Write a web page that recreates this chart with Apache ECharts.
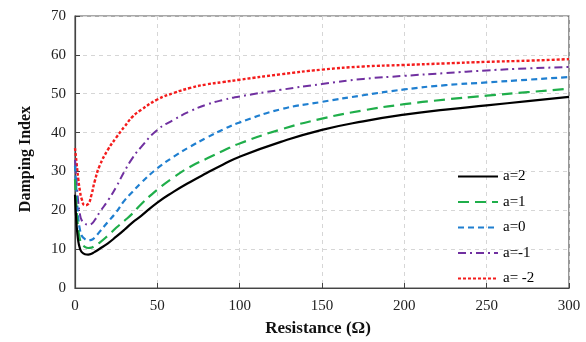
<!DOCTYPE html>
<html>
<head>
<meta charset="utf-8">
<script src="https://cdn.jsdelivr.net/npm/echarts@6/dist/echarts.min.js"></script>
<style>
  html, body { margin: 0; padding: 0; background: #fff; }
  #chart { width: 586px; height: 342px; }
</style>
</head>
<body>
<div id="chart"></div>
<script>
// Resistance values (Ω) where the damping index is sampled
const resistance = [0, 1, 2, 3, 4, 6, 8, 10, 12, 15, 20, 25, 30, 35, 40, 50, 60, 70, 80, 90, 100, 125, 150, 175, 200, 225, 250, 275, 300];

// Damping index for each value of a
const dampA2  = [24, 16, 12, 10.2, 9.3, 8.7, 8.6, 8.8, 9.3, 10.1, 11.5, 13.2, 15, 16.9, 18.5, 22, 24.8, 27.3, 29.6, 31.8, 33.8, 37.6, 40.7, 42.9, 44.6, 45.9, 47, 48.1, 49.2];
const dampA1  = [28, 20, 15, 12.5, 11.4, 10.6, 10.3, 10.4, 10.9, 11.7, 13.5, 15.5, 17.3, 19.2, 21.5, 25.3, 28.5, 31.2, 33.3, 35.3, 37.2, 40.8, 43.6, 45.7, 47.3, 48.5, 49.5, 50.4, 51.3];
const dampA0  = [31.5, 24, 18, 15, 13.5, 12.6, 12.3, 12.4, 13, 14.5, 17, 19.5, 22.5, 24.8, 27, 30.8, 33.8, 36.4, 38.7, 40.8, 42.6, 46, 47.9, 49.6, 51.1, 52.2, 52.9, 53.6, 54.3];
const dampAm1 = [33, 27, 22, 19, 17.5, 16.6, 16.3, 16.5, 17.5, 19.5, 22.5, 26, 30, 33.5, 36.2, 40.7, 43.3, 45.5, 47.2, 48.4, 49.3, 51, 52.5, 53.8, 54.6, 55.3, 56, 56.5, 56.9];
const dampAm2 = [36, 32, 28, 25, 23, 21.3, 21.6, 24, 27.5, 31.5, 35.6, 38.7, 41.5, 44.1, 45.8, 48.5, 50.2, 51.5, 52.4, 53, 53.6, 55, 56.2, 57, 57.4, 57.8, 58.2, 58.5, 58.9];

// Legend labels
const seriesNames = ['a=2', 'a=1', 'a=0', 'a=-1', 'a= -2'];

// Axis ticks
const xTicks = { min: 0, max: 300, interval: 50 };
const yTicks = { min: 0, max: 70, interval: 10 };

const serif = '"Liberation Serif", "Times New Roman", serif';

function pairs(ys) {
  return resistance.map((x, i) => [x, ys[i]]);
}

const styles = [
  { color: '#000000', width: 2.2, type: 'solid' },
  { color: '#1fae4a', width: 2.2, type: [11, 6] },
  { color: '#1f7fd0', width: 2.2, type: [6, 4] },
  { color: '#7030a0', width: 2, type: [8, 4, 2, 4] },
  { color: '#f41c1c', width: 2.4, type: [3, 2] }
];
const dataSets = [dampA2, dampA1, dampA0, dampAm1, dampAm2];

const series = dataSets.map((ys, i) => ({
  name: seriesNames[i],
  type: 'line',
  data: pairs(ys),
  symbol: 'none',
  smooth: 0.5,
  lineStyle: { color: styles[i].color, width: styles[i].width, type: styles[i].type },
  itemStyle: { color: styles[i].color },
  z: 10 - i
}));

const chart = echarts.init(document.getElementById('chart'), null, { renderer: 'canvas' });
chart.setOption({
  animation: false,
  backgroundColor: '#ffffff',
  grid: {
    left: 75, right: 17, top: 16, bottom: 51,
    show: true, borderColor: '#555', borderWidth: 1.2, backgroundColor: 'transparent'
  },
  legend: {
    orient: 'vertical',
    left: 452,
    top: 164,
    padding: 5,
    itemWidth: 40,
    itemHeight: 12,
    itemGap: 10.5,
    data: seriesNames,
    itemStyle: { opacity: 0 },
    textStyle: { fontFamily: serif, fontSize: 15, color: '#000' }
  },
  xAxis: {
    type: 'value',
    min: xTicks.min, max: xTicks.max, interval: xTicks.interval,
    name: 'Resistance (Ω)',
    nameLocation: 'middle',
    nameGap: 32,
    nameTextStyle: { fontFamily: serif, fontSize: 17, fontWeight: 'bold', color: '#111', padding: [0, 8, 0, 0] },
    axisLine: { show: true, lineStyle: { color: '#444', width: 1.2 } },
    axisTick: { show: true, inside: true, length: 5, lineStyle: { color: '#444' } },
    axisLabel: { fontFamily: serif, fontSize: 15, color: '#222', margin: 11 },
    splitLine: { show: true, lineStyle: { color: '#d6d6d6', type: [4, 4], width: 1 } }
  },
  yAxis: {
    type: 'value',
    min: yTicks.min, max: yTicks.max, interval: yTicks.interval,
    name: 'Damping Index',
    nameLocation: 'middle',
    nameGap: 41,
    nameTextStyle: { fontFamily: serif, fontSize: 16, fontWeight: 'bold', color: '#111', padding: [0, 14, 0, 0] },
    axisLine: { show: true, lineStyle: { color: '#444', width: 1.2 } },
    axisTick: { show: true, inside: true, length: 5, lineStyle: { color: '#444' } },
    axisLabel: { fontFamily: serif, fontSize: 15, color: '#222', margin: 9 },
    splitLine: { show: true, lineStyle: { color: '#d6d6d6', type: [4, 4], width: 1 } }
  },
  series: series
});
</script>
</body>
</html>
